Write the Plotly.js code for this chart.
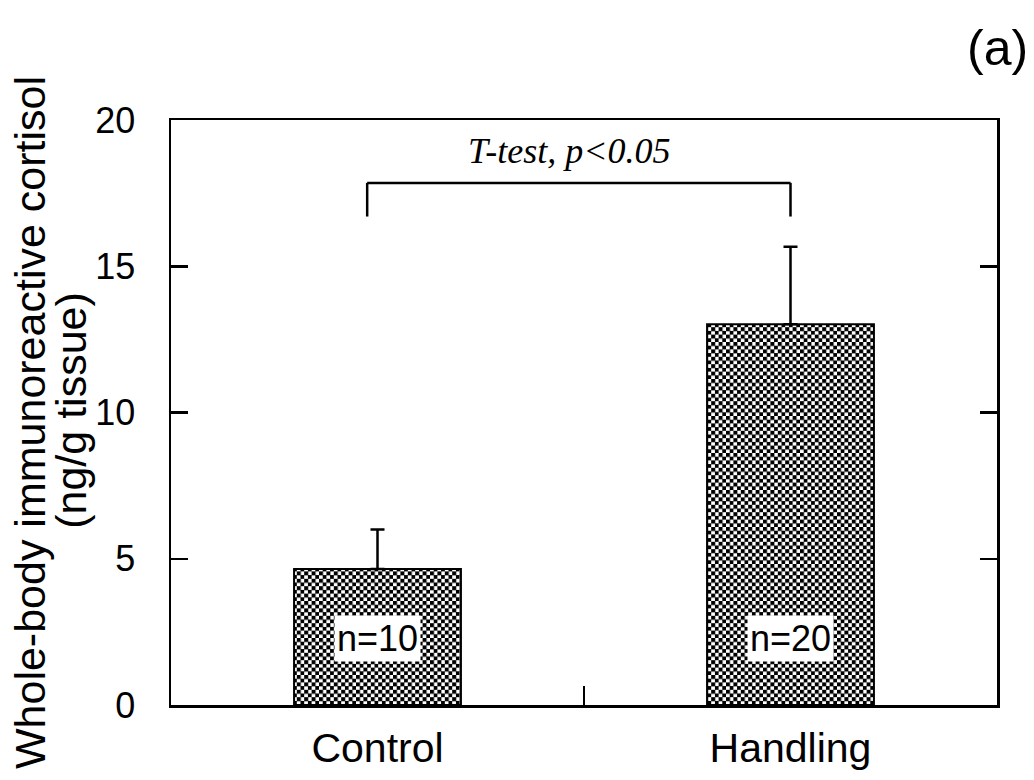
<!DOCTYPE html>
<html>
<head>
<meta charset="utf-8">
<script src="https://cdn.plot.ly/plotly-3.0.1.min.js"></script>
<style>
  html, body { margin: 0; padding: 0; background: #fff; }
  #chart { width: 1034px; height: 780px; }
</style>
</head>
<body>
<div id="chart"></div>
<script>
// ---- data ----
const categories = ['Control', 'Handling'];
const meanCortisol = [4.65, 13.02];
const errorUp = [1.35, 2.65];
const nLabels = ['n=10', 'n=20'];
const yTickVals = [0, 5, 10, 15, 20];
const yTitleLine1 = 'Whole-body immunoreactive cortisol';
const yTitleLine2 = '(ng/g tissue)';
const statText = 'T-test, p<0.05';
const panelLabel = '(a)';

// ---- chart ----
const FONT = 'Liberation Sans, Arial, sans-serif';
const gd = document.getElementById('chart');

const trace = {
  type: 'bar',
  x: categories,
  y: meanCortisol,
  width: 0.404,
  marker: {
    color: 'white',
    line: { color: 'black', width: 2 },
    pattern: { shape: 'x', size: 7, solidity: 0.5, fgcolor: 'black', bgcolor: 'white', fillmode: 'replace' }
  },
  error_y: {
    type: 'data',
    symmetric: false,
    array: errorUp,
    arrayminus: categories.map(() => 0),
    color: 'black',
    thickness: 2.5,
    width: 7
  },
  hoverinfo: 'skip'
};

const bracketTop = 17.85, bracketBottom = 16.7;
const bracketLeft = -0.025, bracketRight = 1.0;
const lineStyle = { color: 'black', width: 2.5 };

const annotations = nLabels.map((t, i) => ({
  x: categories[i], y: 2.29, xref: 'x', yref: 'y',
  text: t, showarrow: false, bgcolor: 'white', borderpad: 2,
  font: { family: FONT, size: 36, color: 'black' }
}));
annotations.push({
  x: 0.482, y: 18.95, xref: 'paper', yref: 'y', text: '<i>' + statText.replace('<', '&lt;') + '</i>',
  showarrow: false, font: { family: 'Liberation Serif, Times New Roman, serif', size: 36, color: 'black' }
});
annotations.push({
  x: 1.0, y: 1.123, xref: 'paper', yref: 'paper', text: panelLabel, showarrow: false,
  xanchor: 'center', yanchor: 'middle',
  font: { family: FONT, size: 50, color: 'black' }
});
annotations.push({
  x: -0.1707, y: 0.482, xref: 'paper', yref: 'paper', text: yTitleLine1, textangle: -90,
  showarrow: false, xanchor: 'center', yanchor: 'middle',
  font: { family: FONT, size: 43, color: 'black' }
});
annotations.push({
  x: -0.1210, y: 0.503, xref: 'paper', yref: 'paper', text: yTitleLine2, textangle: -90,
  showarrow: false, xanchor: 'center', yanchor: 'middle',
  font: { family: FONT, size: 43, color: 'black' }
});

const layout = {
  width: 1034, height: 780,
  margin: { l: 171, r: 37, t: 120, b: 75 },
  paper_bgcolor: 'white', plot_bgcolor: 'white',
  showlegend: false,
  font: { family: FONT, color: 'black' },
  xaxis: {
    type: 'category',
    range: [-0.5, 1.5],
    tickson: 'boundaries',
    ticks: 'inside', ticklen: 19, tickwidth: 2.5, tickcolor: 'black',
    showline: true, linecolor: 'black', linewidth: 2.5, mirror: true,
    showgrid: false, zeroline: false,
    tickfont: { family: FONT, size: 41, color: 'black' },
    ticklabelstandoff: 5,
    fixedrange: true
  },
  yaxis: {
    range: [0, 20],
    tickvals: yTickVals,
    ticks: 'inside', ticklen: 17, tickwidth: 2.5, tickcolor: 'black',
    showline: true, linecolor: 'black', linewidth: 2.5, mirror: 'ticks',
    showgrid: false, zeroline: false,
    tickfont: { family: FONT, size: 36, color: 'black' },
    ticklabelstandoff: 26,
    fixedrange: true
  },
  shapes: [
    { type: 'line', xref: 'x', yref: 'y', x0: bracketLeft, x1: bracketRight, y0: bracketTop, y1: bracketTop, line: lineStyle },
    { type: 'line', xref: 'x', yref: 'y', x0: bracketLeft, x1: bracketLeft, y0: bracketTop, y1: bracketBottom, line: lineStyle },
    { type: 'line', xref: 'x', yref: 'y', x0: bracketRight, x1: bracketRight, y0: bracketTop, y1: bracketBottom, line: lineStyle }
  ],
  annotations: annotations
};

Plotly.newPlot(gd, [trace], layout, { displayModeBar: false, staticPlot: true }).then(function () {
  // turn the bar fill pattern into an axis-aligned checkerboard
  const ns = 'http://www.w3.org/2000/svg';
  const cell = 7.4, half = cell / 2, blk = 4.0;
  gd.querySelectorAll('pattern').forEach(function (p) {
    p.setAttribute('width', cell);
    p.setAttribute('height', cell);
    p.setAttribute('patternUnits', 'userSpaceOnUse');
    p.removeAttribute('patternTransform');
    while (p.firstChild) p.removeChild(p.firstChild);
    [[0, 0, cell, cell, 'white'], [0, 0, blk, blk, 'black'], [half, half, blk, blk, 'black']].forEach(function (r) {
      const el = document.createElementNS(ns, 'rect');
      el.setAttribute('x', r[0]); el.setAttribute('y', r[1]);
      el.setAttribute('width', r[2]); el.setAttribute('height', r[3]);
      el.setAttribute('fill', r[4]);
      p.appendChild(el);
    });
  });
});
</script>
</body>
</html>
